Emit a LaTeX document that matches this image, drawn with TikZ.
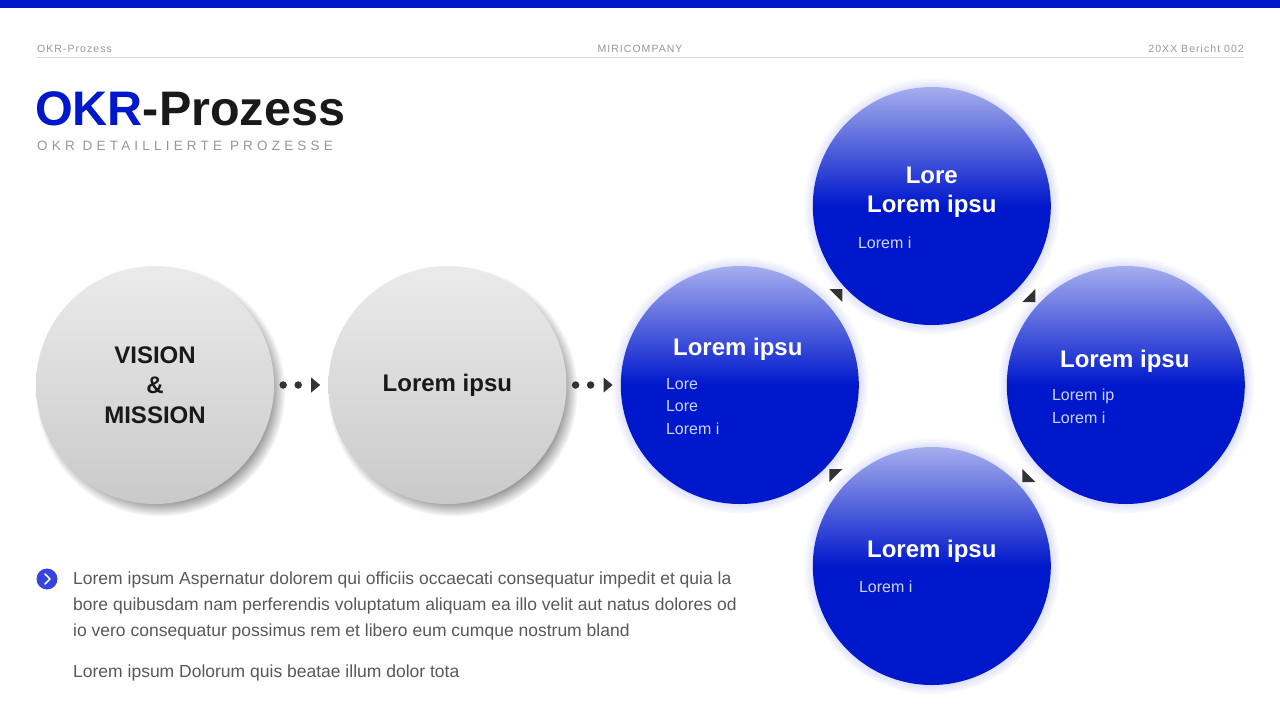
\documentclass[tikz,border=0pt]{standalone}
\usepackage{fontspec}
\setmainfont{Liberation Sans}
\usepackage{tikz}
\usetikzlibrary{calc}
\usetikzlibrary{positioning}
\usetikzlibrary{shadows}
\usetikzlibrary{arrows.meta}

\definecolor{okrblue}{RGB}{0,24,204}
\definecolor{bulletblue}{RGB}{52,68,220}
\definecolor{softgrey}{RGB}{150,150,152}
\definecolor{bodygrey}{RGB}{88,88,92}
\definecolor{paleblue}{RGB}{206,212,252}

\begin{document}
\begin{tikzpicture}[x=1pt,y=-1pt]
  \tikzset{mygrey/.style={circle, minimum size=238pt, inner sep=0pt, align=center,
      top color=black!8, bottom color=black!21,
      font=\fontsize{24}{30}\selectfont\bfseries, text=black!90,
      circular drop shadow={shadow xshift=5pt, shadow yshift=-6pt, shadow scale=1.05, fill=black!85, opacity=0.6}}};
  \tikzset{myblue/.style={circle, minimum size=238pt, inner sep=0pt,
      top color=okrblue!35!white, bottom color=okrblue, middle color=okrblue,
      circular glow={fill=okrblue!35, shadow scale=1.08, opacity=0.7}}};
  \tikzset{mytitle/.style={align=center, inner sep=0pt, text=white, font=\fontsize{24}{29}\selectfont\bfseries}};
  \tikzset{mylist/.style={anchor=north west, align=left, inner sep=0pt, text=paleblue, font=\fontsize{16}{22.5}\selectfont}};
  \tikzset{myhead/.style={inner sep=0pt, text=softgrey, font=\fontsize{10.5}{12}\selectfont\addfontfeature{LetterSpace=10}}};
  \tikzset{mydots/.style={line width=7.5pt, line cap=round, dash pattern=on 0pt off 15pt, shorten <=9pt, shorten >=8pt, draw=black!80, -{Triangle[length=9pt, width=15pt, line width=0pt]}}};

  \useasboundingbox (0,0) rectangle (1280,720);
  \fill[okrblue] (0,0) rectangle (1280,8);

  \node[myhead, anchor=west] (hl) at (37,49) {OKR-Prozess};
  \node[myhead] (hc) at (640,49) {MIRICOMPANY};
  \node[myhead, anchor=east] (hr) at (1244,49) {20XX Bericht 002};
  \draw[black!15, line width=0.8pt] (37,57) -- (1244,57);

  \node[anchor=base west, inner sep=0pt, font=\fontsize{48.5}{50}\selectfont\bfseries] (title) at (35,125) {\textcolor{okrblue}{OKR}\textcolor{black!90}{-Prozess}};
  \node[anchor=west, inner sep=0pt, text=softgrey, font=\fontsize{13.5}{16}\selectfont\addfontfeature{LetterSpace=31}] (sub) at (37,146) {OKR DETAILLIERTE PROZESSE};

  \node[mygrey] (vm) at (155,385) {VISION\\\&\\MISSION};
  \node[mygrey, right=54pt of vm] (lp) {Lorem ipsu};
  \node[myblue, right=54pt of lp] (bl) {};
  \node[myblue] (bt) at ($(bl)+(192,-179)$) {};
  \node[myblue] (br) at ($(bl)+(386,0)$) {};
  \node[myblue] (bb) at ($(bl)+(192,181)$) {};

  \draw [mydots] (vm) -- (lp);
  \draw [mydots] (lp) -- (bl);

  \node[mytitle] (blt) at ($(bl)+(-2,-36)$) {Lorem ipsu};
  \node[mylist] (bll) at ($(bl)+(-74,-7)$) {Lore\\Lore\\Lorem i};
  \node[mytitle] (btt) at ($(bt)+(0,-14)$) {Lore\\Lorem ipsu};
  \node[mylist] (btl) at ($(bt)+(-74,31)$) {Lorem i};
  \node[mytitle] (brt) at ($(br)+(-1,-24)$) {Lorem ipsu};
  \node[mylist] (brl) at ($(br)+(-74,4)$) {Lorem ip\\Lorem i};
  \node[mytitle] (bbt) at ($(bb)+(0,-15)$) {Lorem ipsu};
  \node[mylist] (bbl) at ($(bb)+(-73,15)$) {Lorem i};

  \foreach \a/\b/\sx/\sy in {bl/bt/1/-1, bt/br/1/1, br/bb/-1/1, bb/bl/-1/-1}
    \fill[black!80] ($(\a)!0.5!(\b)+(6.5*\sx,6.5*\sy)$) -- ++(-13*\sx,0) -- ++(13*\sx,-13*\sy) -- cycle;

  \node[circle, fill=bulletblue, minimum size=21pt, inner sep=0pt] (bu) at (47,579) {};
  \draw[white, line width=1.6pt, line cap=round, line join=round] ($(bu)+(-2,-5)$) -- ++(5,5) -- ++(-5,5);
  \node[anchor=north west, align=left, inner sep=0pt, text=bodygrey, font=\fontsize{17.5}{26}\selectfont] (txt) at (73,572) {Lorem ipsum Aspernatur dolorem qui officiis occaecati consequatur impedit et quia la\\bore quibusdam nam perferendis voluptatum aliquam ea illo velit aut natus dolores od\\io vero consequatur possimus rem et libero eum cumque nostrum bland};
  \node[anchor=north west, inner sep=0pt, text=bodygrey, font=\fontsize{17.5}{26}\selectfont] (txt2) at (73,665) {Lorem ipsum Dolorum quis beatae illum dolor tota};
\end{tikzpicture}
\end{document}
